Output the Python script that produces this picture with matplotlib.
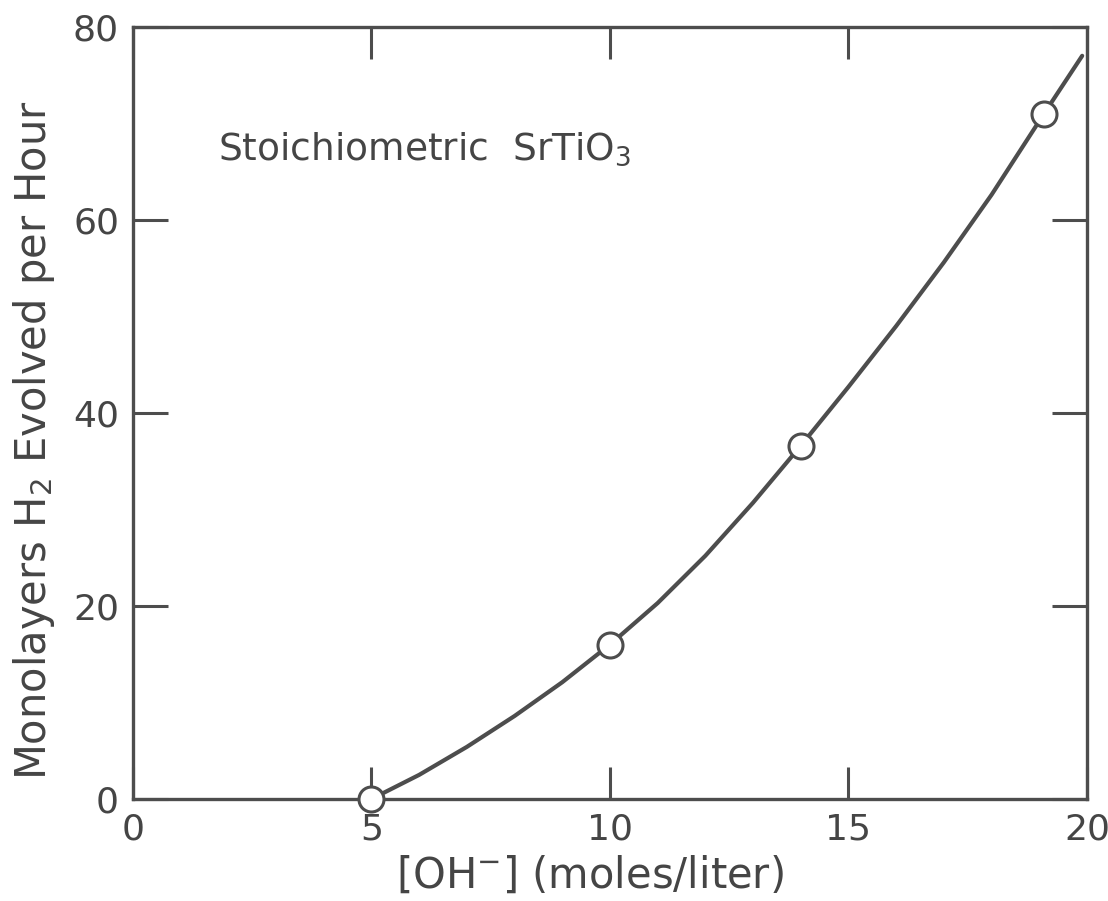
import matplotlib
matplotlib.use("Agg")
import matplotlib.pyplot as plt

# Measured data points
oh_conc = [5.0, 10.0, 14.0, 19.1]
h2_rate = [0.0, 16.0, 36.6, 71.0]

# Smooth hand-drawn curve
curve_x = [5.0, 6.0, 7.0, 8.0, 9.0, 10.0, 11.0, 12.0, 13.0, 14.0, 15.0, 16.0, 17.0, 18.0, 19.1, 19.9]
curve_y = [0.0, 2.5, 5.4, 8.6, 12.1, 16.0, 20.3, 25.2, 30.7, 36.6, 42.7, 49.0, 55.6, 62.6, 71.0, 77.0]

x_ticks = [0, 5, 10, 15, 20]
x_tick_labels = ["0", "5", "10", "15", "20"]
y_ticks = [0, 20, 40, 60, 80]
y_tick_labels = ["0", "20", "40", "60", "80"]

ink = "#4d4d4d"
txt = "#454545"
plt.rcParams['font.family'] = ['DejaVu Sans']

fig = plt.figure(figsize=(11.08, 9.01), dpi=100)
ax = fig.add_axes([0.120, 0.1132, 0.861, 0.857])

ax.plot(curve_x, curve_y, color=ink, lw=3.0, solid_capstyle='round', solid_joinstyle='round',
        zorder=3, clip_on=False)
ax.plot(oh_conc, h2_rate, linestyle='none', marker='o', ms=18, mfc='white', mec=ink, mew=2.2,
        zorder=5, clip_on=False)

ax.set_xlim(0, 20)
ax.set_ylim(0, 80)
ax.set_xticks(x_ticks)
ax.set_xticklabels(x_tick_labels)
ax.set_yticks(y_ticks)
ax.set_yticklabels(y_tick_labels)

for s in ax.spines.values():
    s.set_color(ink)
    s.set_linewidth(2.4)

ax.tick_params(axis='x', direction='in', length=23, width=2.2, color=ink, top=True, bottom=True,
               labelsize=26, labelcolor=txt, pad=10)
ax.tick_params(axis='y', direction='in', length=25, width=2.2, color=ink, left=True, right=True,
               labelsize=26, labelcolor=txt, pad=10)

ax.set_xlabel("[OH$^{-}$] (moles/liter)", fontsize=30, color=txt)
ax.set_ylabel("Monolayers H$_2$ Evolved per Hour", fontsize=30, color=txt)
ax.xaxis.set_label_coords(0.479, -0.072)
ax.yaxis.set_label_coords(-0.080, 0.465)

ax.text(1.78, 67.3, "Stoichiometric  SrTiO$_3$", fontsize=27, color=txt, va='center', ha='left')

fig.savefig("out.png", dpi=100, facecolor='white')
